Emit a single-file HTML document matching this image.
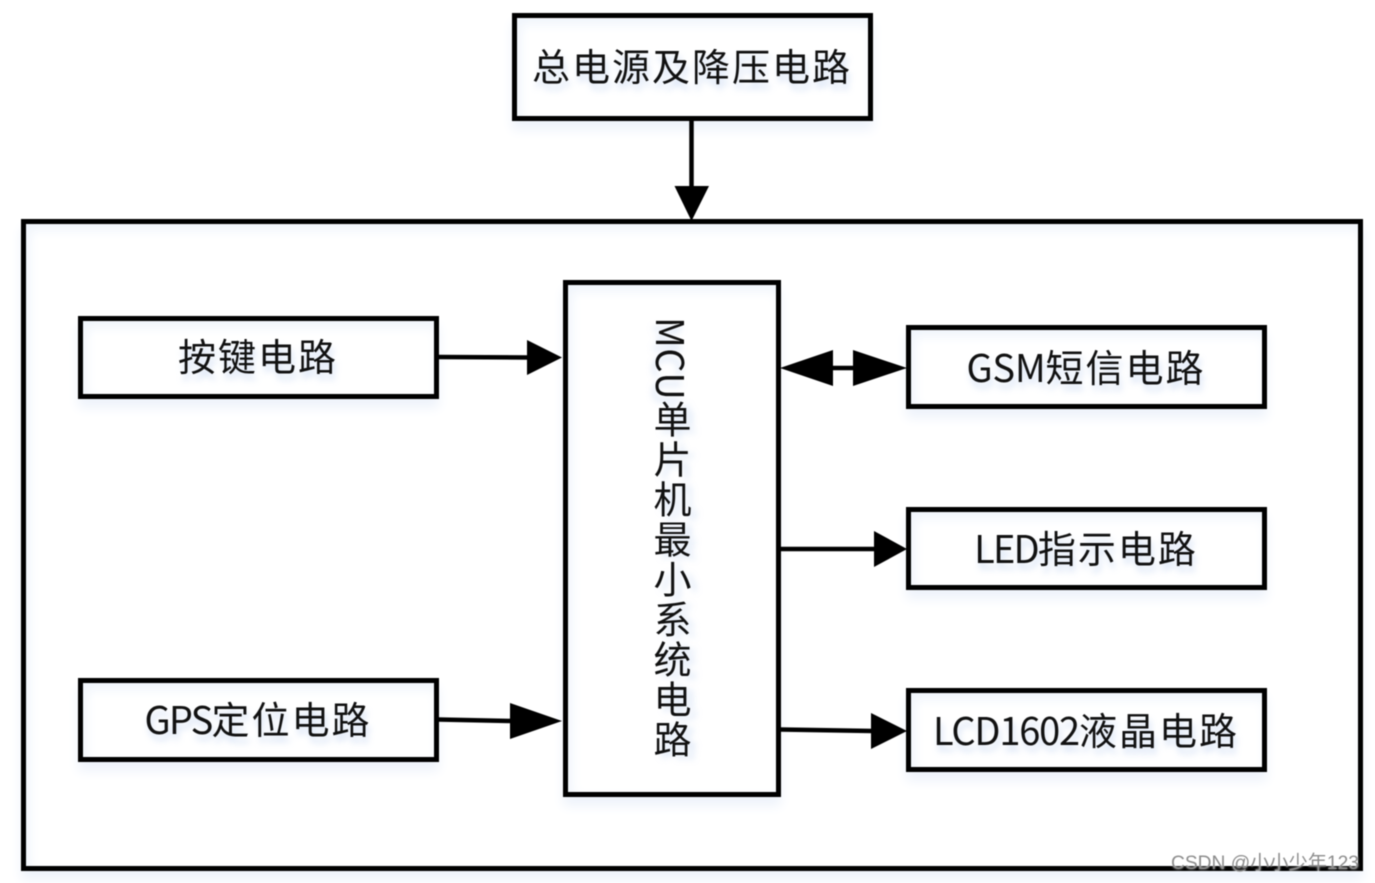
<!DOCTYPE html>
<html lang="zh">
<head>
<meta charset="utf-8">
<title>系统框图</title>
<style>
html,body{margin:0;padding:0;background:#fff;}
#root{position:relative;width:1375px;height:883px;overflow:hidden;background:#fff;filter:blur(.4px);
  font-family:"Noto Sans CJK SC","Liberation Sans",sans-serif;color:#111;}
.b{position:absolute;box-sizing:border-box;border:5px solid #000;background:#fff;
  box-shadow:0 9px 11px #eef3fb, inset 0 9px 12px -3px #eff4fb, inset 9px 0 12px -5px #f2f6fc;}
.t{position:absolute;display:flex;align-items:center;justify-content:center;white-space:nowrap;
  font-size:38px;letter-spacing:2px;text-shadow:2px 6px 7px rgba(150,180,230,.4);line-height:1;}
#v{position:absolute;left:648px;top:317px;width:48px;height:442px;writing-mode:vertical-rl;
  font-size:38px;letter-spacing:2px;line-height:48px;white-space:nowrap;text-shadow:6px 3px 7px rgba(150,180,230,.35);}
#wm{position:absolute;left:1171px;top:852.5px;font-family:"Liberation Sans","Noto Sans CJK SC",sans-serif;font-size:19.2px;line-height:22px;
  color:#8d8d8d;white-space:nowrap;text-shadow:0 0 2px rgba(255,255,255,.8);}
svg{position:absolute;left:0;top:0;}
</style>
</head>
<body>
<div id="root">
  <div class="b" style="left:20.5px;top:219px;width:1342.5px;height:652px;"></div>
  <div class="b" style="left:512px;top:13px;width:360.5px;height:108px;"></div>
  <div class="b" style="left:77.5px;top:316px;width:361px;height:82.5px;"></div>
  <div class="b" style="left:77.5px;top:678px;width:361px;height:83.5px;"></div>
  <div class="b" style="left:563px;top:280px;width:217.5px;height:517px;"></div>
  <div class="b" style="left:906px;top:325px;width:360.5px;height:83.5px;"></div>
  <div class="b" style="left:906px;top:507px;width:360.5px;height:82.5px;"></div>
  <div class="b" style="left:906px;top:688px;width:360.5px;height:83.5px;"></div>

  <div class="t" style="left:512px;top:13px;width:360px;height:103px;">总电源及降压电路</div>
  <div class="t" style="left:78px;top:316px;width:360px;height:78px;">按键电路</div>
  <div class="t" style="left:78px;top:678px;width:360px;height:79px;"><span style="letter-spacing:-1.8px">GPS</span>定位电路</div>
  <div class="t" style="left:906px;top:325px;width:360px;height:82px;"><span style="letter-spacing:-.2px">GSM</span>短信电路</div>
  <div class="t" style="left:906px;top:507px;width:360px;height:80px;"><span style="letter-spacing:-1.8px">LED</span>指示电路</div>
  <div class="t" style="left:906px;top:688px;width:360px;height:81px;"><span style="letter-spacing:-1.2px">LCD1602</span>液晶电路</div>
  <div id="v"><span style="letter-spacing:.4px">MCU</span>单片机最小系统电路</div>

  <svg width="1375" height="883" viewBox="0 0 1375 883">
    <g stroke="#000" stroke-width="4.5" fill="none">
      <line x1="691.5" y1="120" x2="691.5" y2="190"/>
      <line x1="438" y1="357" x2="530" y2="357.5"/>
      <line x1="438" y1="719.5" x2="512" y2="721"/>
      <line x1="830" y1="368" x2="856" y2="368"/>
      <line x1="780" y1="549" x2="876" y2="549"/>
      <line x1="780" y1="729.5" x2="873" y2="731"/>
    </g>
    <g fill="#000">
      <polygon points="674.5,186 709,186 691.5,221"/>
      <polygon points="527,340 527,375 562,357.5"/>
      <polygon points="510,703 510,739 562,721"/>
      <polygon points="780,368 833,350 833,386"/>
      <polygon points="853,350 853,386 907,368"/>
      <polygon points="874,531 874,567 907,549"/>
      <polygon points="871,713 871,749 907,731"/>
    </g>
  </svg>
  <div id="wm">CSDN @小小少年123</div>
</div>
</body>
</html>
